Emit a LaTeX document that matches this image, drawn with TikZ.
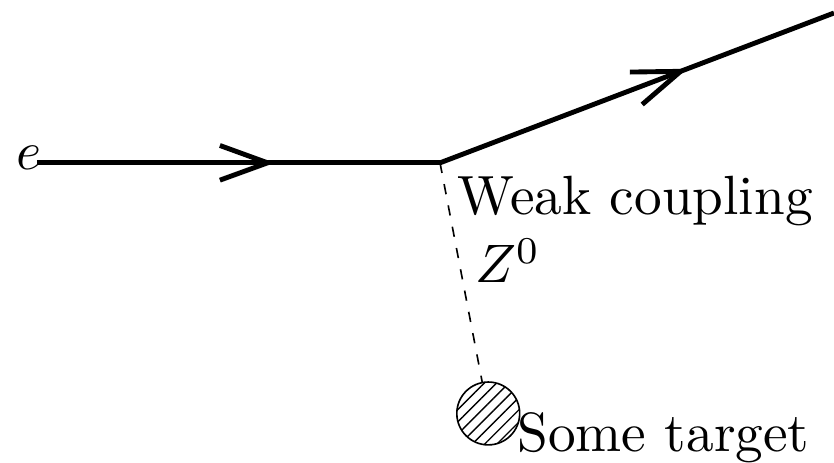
\documentclass[tikz,border=0pt]{standalone}
\usetikzlibrary{arrows.meta,decorations.markings,patterns.meta,positioning}

\begin{document}
\begin{tikzpicture}[
  x=1pt, y=1pt,
  font=\fontsize{10.2pt}{12pt}\selectfont,
  fermion/.style={line width=0.9pt, postaction={decorate},
    decoration={markings, mark=at position #1 with {\arrow{Straight Barb[length=8.8pt,width=6.4pt,line width=0.9pt]}}}},
  boson/.style={line width=0.3pt, dash pattern=on 1.9pt off 2.1pt},
  blob/.style={circle, draw, line width=0.3pt, minimum size=11.6pt, inner sep=0pt,
    pattern={Lines[angle=45,distance=1.6pt,line width=0.25pt]}},
  lbl/.style={anchor=base west, inner sep=0pt},
]
\useasboundingbox (0,0) rectangle (153.9,85.4);
\coordinate (in) at (6.8,55.35);
\coordinate (v) at (81.2,55.35);
\coordinate (out) at (153.9,83.0);
\node[blob] (tgt) at (90.1,9.1) {};
\node[lbl] (e) at (2.8,54.06) {$e$};
\node[lbl] (wk) at (84.3,45.8) {Weak coupling};
\node[lbl] (z) at (87.5,33.2) {$Z^0$};
\node[lbl] (st) at (95.3,2.0) {Some target};
\draw[fermion=0.59] (in) -- (v);
\draw[fermion=0.628] (v) -- (out);
\draw[boson] (v) -- (tgt);
\end{tikzpicture}
\end{document}
